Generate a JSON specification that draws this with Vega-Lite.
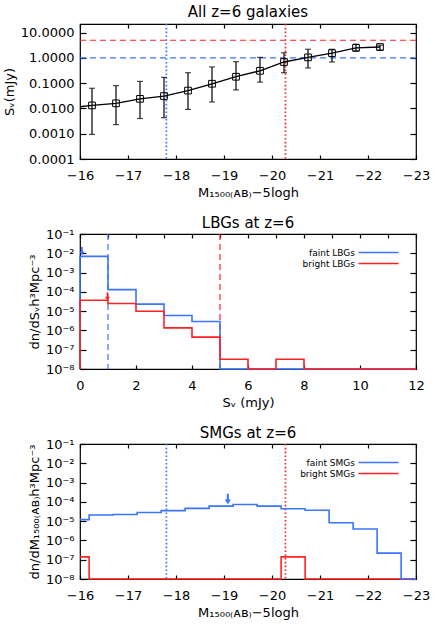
{
  "$schema": "https://vega.github.io/schema/vega-lite/v6.json",
  "background": "white",
  "padding": {"left": 2, "top": 4, "right": 5, "bottom": 2},
  "spacing": 15,
  "config": {
    "font": "DejaVu Sans",
    "view": {"stroke": "black", "strokeWidth": 1.2},
    "scale": {"continuousPadding": 0, "zero": false},
    "axis": {"grid": false, "domain": false, "labelFlush": false, "tickColor": "black", "tickSize": -6, "tickWidth": 1.2, "labelPadding": 12, "labelFontSize": 13, "labelColor": "black", "titleFontSize": 13, "titleFontWeight": "normal", "titleColor": "black", "labelFont": "DejaVu Sans", "titleFont": "DejaVu Sans", "titlePadding": 4},
    "axisX": {"tickSize": -4, "labelPadding": 14},
    "title": {"fontSize": 15, "fontWeight": "normal", "offset": 3, "font": "DejaVu Sans", "frame": "group"},
    "legend": {"orient": "top-right", "offset": 14, "padding": 0, "title": null, "labelFontSize": 9, "labelAlign": "right", "labelOffset": -28, "symbolType": "M-8,0L8,0", "symbolSize": 25, "symbolStrokeWidth": 1.6, "rowPadding": 1, "labelColor": "black"}
  },
  "datasets": {
    "p1": [
      {"M": -15.75, "S": 0.0104, "lo": null, "hi": null},
      {"M": -16.25, "S": 0.0132, "lo": 0.00094, "hi": 0.063},
      {"M": -16.75, "S": 0.016, "lo": 0.0023, "hi": 0.08},
      {"M": -17.25, "S": 0.024, "lo": 0.004, "hi": 0.118},
      {"M": -17.75, "S": 0.031, "lo": 0.0043, "hi": 0.17},
      {"M": -18.25, "S": 0.051, "lo": 0.0092, "hi": 0.26},
      {"M": -18.75, "S": 0.095, "lo": 0.018, "hi": 0.44},
      {"M": -19.25, "S": 0.18, "lo": 0.054, "hi": 0.71},
      {"M": -19.75, "S": 0.31, "lo": 0.11, "hi": 1.05},
      {"M": -20.25, "S": 0.69, "lo": 0.26, "hi": 1.6},
      {"M": -20.75, "S": 1.05, "lo": 0.4, "hi": 2.2},
      {"M": -21.25, "S": 1.55, "lo": 0.69, "hi": 2.2},
      {"M": -21.75, "S": 2.5, "lo": 1.9, "hi": 3.5},
      {"M": -22.25, "S": 2.7, "lo": 2.05, "hi": 3.2}
    ],
    "p2": [
      {"s": "faint LBGs", "i": 0, "x": 0, "y": 1e-8},
      {"s": "faint LBGs", "i": 1, "x": 0, "y": 0.0069},
      {"s": "faint LBGs", "i": 2, "x": 1, "y": 0.00013},
      {"s": "faint LBGs", "i": 3, "x": 2, "y": 2.3e-5},
      {"s": "faint LBGs", "i": 4, "x": 3, "y": 5.9e-6},
      {"s": "faint LBGs", "i": 5, "x": 4, "y": 2.9e-6},
      {"s": "faint LBGs", "i": 6, "x": 5, "y": 1e-8},
      {"s": "faint LBGs", "i": 7, "x": 12, "y": 1e-8},
      {"s": "bright LBGs", "i": 0, "x": 0, "y": 1e-8},
      {"s": "bright LBGs", "i": 1, "x": 0, "y": 3.7e-5},
      {"s": "bright LBGs", "i": 2, "x": 1, "y": 2.5e-5},
      {"s": "bright LBGs", "i": 3, "x": 2, "y": 9.8e-6},
      {"s": "bright LBGs", "i": 4, "x": 3, "y": 1.35e-6},
      {"s": "bright LBGs", "i": 5, "x": 4, "y": 4.5e-7},
      {"s": "bright LBGs", "i": 6, "x": 5, "y": 3.2e-8},
      {"s": "bright LBGs", "i": 7, "x": 6, "y": 1e-8},
      {"s": "bright LBGs", "i": 8, "x": 7, "y": 3.2e-8},
      {"s": "bright LBGs", "i": 9, "x": 8, "y": 1e-8},
      {"s": "bright LBGs", "i": 10, "x": 12, "y": 1e-8}
    ],
    "p3": [
      {"s": "faint SMGs", "i": 0, "x": -16, "y": 1.2e-5},
      {"s": "faint SMGs", "i": 1, "x": -16.19, "y": 2.1e-5},
      {"s": "faint SMGs", "i": 2, "x": -16.69, "y": 2.2e-5},
      {"s": "faint SMGs", "i": 3, "x": -17.19, "y": 2.8e-5},
      {"s": "faint SMGs", "i": 4, "x": -17.69, "y": 3.5e-5},
      {"s": "faint SMGs", "i": 5, "x": -18.19, "y": 4.6e-5},
      {"s": "faint SMGs", "i": 6, "x": -18.69, "y": 6.0e-5},
      {"s": "faint SMGs", "i": 7, "x": -19.19, "y": 7.3e-5},
      {"s": "faint SMGs", "i": 8, "x": -19.69, "y": 6.0e-5},
      {"s": "faint SMGs", "i": 9, "x": -20.19, "y": 4.4e-5},
      {"s": "faint SMGs", "i": 10, "x": -20.69, "y": 3.7e-5},
      {"s": "faint SMGs", "i": 11, "x": -21.19, "y": 8.3e-6},
      {"s": "faint SMGs", "i": 12, "x": -21.69, "y": 3.9e-6},
      {"s": "faint SMGs", "i": 13, "x": -22.19, "y": 2.2e-7},
      {"s": "faint SMGs", "i": 14, "x": -22.69, "y": 1e-8},
      {"s": "faint SMGs", "i": 15, "x": -23, "y": 1e-8},
      {"s": "bright SMGs", "i": 0, "x": -16, "y": 1.4e-7},
      {"s": "bright SMGs", "i": 1, "x": -16.19, "y": 1e-8},
      {"s": "bright SMGs", "i": 2, "x": -20.19, "y": 1.4e-7},
      {"s": "bright SMGs", "i": 3, "x": -20.69, "y": 1e-8},
      {"s": "bright SMGs", "i": 4, "x": -23, "y": 1e-8}
    ]
  },
  "vconcat": [
    {
      "width": 336, "height": 135,
      "title": "All z=6 galaxies",
      "resolve": {"axis": {"x": "independent", "y": "independent"}},
      "layer": [
        {
          "layer": [
            {
              "data": {"values": [{"v": 1}]},
              "mark": {"type": "rule", "color": "#3a74ff", "strokeDash": [6, 4], "strokeWidth": 1.2},
              "encoding": {"y": {"field": "v", "type": "quantitative", "scale": {"type": "log", "domain": [0.0001, 22], "nice": false}}}
            },
            {
              "data": {"values": [{"v": 5}]},
              "mark": {"type": "rule", "color": "#ff2222", "strokeDash": [6, 4], "strokeWidth": 1.2},
              "encoding": {"y": {"field": "v", "type": "quantitative"}}
            },
            {
              "data": {"values": [{"v": -17.8}]},
              "mark": {"type": "rule", "color": "#3a74ff", "strokeDash": [1.6, 2.2], "strokeWidth": 1.7},
              "encoding": {"x": {"field": "v", "type": "quantitative", "scale": {"domain": [-23, -16], "reverse": true, "nice": false, "padding": 0}}}
            },
            {
              "data": {"values": [{"v": -20.28}]},
              "mark": {"type": "rule", "color": "#ff2222", "strokeDash": [1.6, 2.2], "strokeWidth": 1.7},
              "encoding": {"x": {"field": "v", "type": "quantitative"}}
            },
            {
              "data": {"name": "p1"},
              "mark": {"type": "line", "color": "black", "strokeWidth": 1.3, "clip": true},
              "encoding": {
                "x": {"field": "M", "type": "quantitative", "axis": {"values": [-16, -17, -18, -19, -20, -21, -22, -23], "format": "d", "title": "M₁₅₀₀₍ᴀʙ₎−5logh"}},
                "y": {"field": "S", "type": "quantitative", "axis": {"values": [0.0001, 0.001, 0.01, 0.1, 1, 10], "format": ".4f", "title": "Sᵥ(mJy)"}}
              }
            },
            {
              "data": {"name": "p1"},
              "transform": [{"filter": "datum.M < -16"}],
              "mark": {"type": "rule", "color": "black", "strokeWidth": 1.2},
              "encoding": {
                "x": {"field": "M", "type": "quantitative"},
                "y": {"field": "lo", "type": "quantitative"},
                "y2": {"field": "hi"}
              }
            },
            {
              "data": {"name": "p1"},
              "transform": [{"filter": "datum.M < -16"}],
              "mark": {"type": "tick", "orient": "horizontal", "color": "black", "size": 6, "thickness": 1.2},
              "encoding": {
                "x": {"field": "M", "type": "quantitative"},
                "y": {"field": "lo", "type": "quantitative"}
              }
            },
            {
              "data": {"name": "p1"},
              "transform": [{"filter": "datum.M < -16"}],
              "mark": {"type": "tick", "orient": "horizontal", "color": "black", "size": 6, "thickness": 1.2},
              "encoding": {
                "x": {"field": "M", "type": "quantitative"},
                "y": {"field": "hi", "type": "quantitative"}
              }
            },
            {
              "data": {"name": "p1"},
              "transform": [{"filter": "datum.M < -16"}],
              "mark": {"type": "point", "shape": "square", "filled": false, "size": 45, "color": "black", "strokeWidth": 1, "opacity": 1},
              "encoding": {
                "x": {"field": "M", "type": "quantitative"},
                "y": {"field": "S", "type": "quantitative"}
              }
            }
          ]
        },
        {
          "data": {"values": [{"x": -20, "y": 1}]},
          "mark": {"type": "point", "opacity": 0},
          "encoding": {
            "x": {"field": "x", "type": "quantitative", "axis": {"orient": "top", "labels": false, "title": null, "values": [-16, -17, -18, -19, -20, -21, -22, -23]}},
            "y": {"field": "y", "type": "quantitative", "axis": {"orient": "right", "labels": false, "title": null, "values": [0.0001, 0.001, 0.01, 0.1, 1, 10]}}
          }
        }
      ]
    },
    {
      "width": 336, "height": 135,
      "title": {"text": "LBGs at z=6", "offset": -3},
      "resolve": {"axis": {"x": "independent", "y": "independent"}},
      "layer": [
        {
          "layer": [
            {
              "data": {"values": [{"v": 1}]},
              "mark": {"type": "rule", "color": "#3a74ff", "strokeDash": [6, 4], "strokeWidth": 1.2},
              "encoding": {"x": {"field": "v", "type": "quantitative", "scale": {"domain": [0, 12], "nice": false, "padding": 0}}}
            },
            {
              "data": {"values": [{"v": 5}]},
              "mark": {"type": "rule", "color": "#ff2222", "strokeDash": [6, 4], "strokeWidth": 1.2},
              "encoding": {"x": {"field": "v", "type": "quantitative"}}
            },
            {
              "data": {"name": "p2"},
              "transform": [{"filter": "datum.s == 'faint LBGs'"}],
              "mark": {"type": "line", "interpolate": "step-after", "strokeWidth": 1.6},
              "encoding": {
                "x": {"field": "x", "type": "quantitative", "axis": {"values": [0, 2, 4, 6, 8, 10, 12], "title": "Sᵥ (mJy)"}},
                "y": {"field": "y", "type": "quantitative", "scale": {"type": "log", "domain": [1e-8, 0.1], "nice": false, "padding": 0}, "axis": {"values": [1e-8, 1e-7, 1e-6, 1e-5, 1e-4, 1e-3, 1e-2, 1e-1], "labelExpr": "'10⁻' + ['⁰','¹','²','³','⁴','⁵','⁶','⁷','⁸','⁹'][round(-log(datum.value)/LN10)]", "title": "dn/dSᵥh³Mpc⁻³"}},
                "color": {"field": "s", "type": "nominal", "scale": {"domain": ["faint LBGs", "bright LBGs"], "range": ["#3a74ff", "#ff2222"]}},
                "order": {"field": "i", "type": "quantitative"}
              }
            },
            {
              "data": {"name": "p2"},
              "transform": [{"filter": "datum.s == 'bright LBGs'"}],
              "mark": {"type": "line", "interpolate": "step-after", "strokeWidth": 1.6},
              "encoding": {
                "x": {"field": "x", "type": "quantitative"},
                "y": {"field": "y", "type": "quantitative"},
                "color": {"field": "s", "type": "nominal"},
                "order": {"field": "i", "type": "quantitative"}
              }
            },
            {
              "data": {"values": [{"x": 0.07, "y": 0.013}]},
              "mark": {"type": "point", "shape": "M-0.2,-1L0.2,-1L0.2,0.1L0.6,0.1L0,1L-0.6,0.1L-0.2,0.1Z", "filled": true, "size": 70, "opacity": 1, "color": "#3a74ff"},
              "encoding": {
                "x": {"field": "x", "type": "quantitative"},
                "y": {"field": "y", "type": "quantitative"}
              }
            },
            {
              "data": {"values": [{"x": 0.98, "y": 5.8e-5}]},
              "mark": {"type": "point", "shape": "M-0.2,-1L0.2,-1L0.2,0.1L0.6,0.1L0,1L-0.6,0.1L-0.2,0.1Z", "filled": true, "size": 70, "opacity": 1, "color": "#ff2222"},
              "encoding": {
                "x": {"field": "x", "type": "quantitative"},
                "y": {"field": "y", "type": "quantitative"}
              }
            }
          ]
        },
        {
          "data": {"values": [{"x": 6, "y": 0.0001}]},
          "mark": {"type": "point", "opacity": 0},
          "encoding": {
            "x": {"field": "x", "type": "quantitative", "axis": {"orient": "top", "labels": false, "title": null, "values": [0, 1, 2, 3, 4, 5, 6, 7, 8, 9, 10, 11, 12]}},
            "y": {"field": "y", "type": "quantitative", "axis": {"orient": "right", "labels": false, "title": null, "values": [1e-8, 1e-7, 1e-6, 1e-5, 1e-4, 1e-3, 1e-2, 1e-1]}}
          }
        }
      ]
    },
    {
      "width": 336, "height": 135,
      "title": {"text": "SMGs at z=6", "offset": -3},
      "resolve": {"axis": {"x": "independent", "y": "independent"}},
      "layer": [
        {
          "layer": [
            {
              "data": {"values": [{"v": -17.8}]},
              "mark": {"type": "rule", "color": "#3a74ff", "strokeDash": [1.6, 2.2], "strokeWidth": 1.7},
              "encoding": {"x": {"field": "v", "type": "quantitative", "scale": {"domain": [-23, -16], "reverse": true, "nice": false, "padding": 0}}}
            },
            {
              "data": {"values": [{"v": -20.28}]},
              "mark": {"type": "rule", "color": "#ff2222", "strokeDash": [1.6, 2.2], "strokeWidth": 1.7},
              "encoding": {"x": {"field": "v", "type": "quantitative"}}
            },
            {
              "data": {"name": "p3"},
              "transform": [{"filter": "datum.s == 'bright SMGs'"}],
              "mark": {"type": "line", "interpolate": "step-after", "strokeWidth": 1.6},
              "encoding": {
                "x": {"field": "x", "type": "quantitative", "axis": {"values": [-16, -17, -18, -19, -20, -21, -22, -23], "format": "d", "title": "M₁₅₀₀₍ᴀʙ₎−5logh"}},
                "y": {"field": "y", "type": "quantitative", "scale": {"type": "log", "domain": [1e-8, 0.1], "nice": false, "padding": 0}, "axis": {"values": [1e-8, 1e-7, 1e-6, 1e-5, 1e-4, 1e-3, 1e-2, 1e-1], "labelExpr": "'10⁻' + ['⁰','¹','²','³','⁴','⁵','⁶','⁷','⁸','⁹'][round(-log(datum.value)/LN10)]", "title": "dn/dM₁₅₀₀₍ᴀʙ₎h³Mpc⁻³"}},
                "color": {"field": "s", "type": "nominal", "scale": {"domain": ["faint SMGs", "bright SMGs"], "range": ["#3a74ff", "#ff2222"]}},
                "order": {"field": "i", "type": "quantitative"}
              }
            },
            {
              "data": {"name": "p3"},
              "transform": [{"filter": "datum.s == 'faint SMGs'"}],
              "mark": {"type": "line", "interpolate": "step-after", "strokeWidth": 1.6},
              "encoding": {
                "x": {"field": "x", "type": "quantitative"},
                "y": {"field": "y", "type": "quantitative"},
                "color": {"field": "s", "type": "nominal"},
                "order": {"field": "i", "type": "quantitative"}
              }
            },
            {
              "data": {"values": [{"x": -19.08, "y": 0.00014}]},
              "mark": {"type": "point", "shape": "M-0.2,-1L0.2,-1L0.2,0.1L0.6,0.1L0,1L-0.6,0.1L-0.2,0.1Z", "filled": true, "size": 110, "opacity": 1, "color": "#3a74ff"},
              "encoding": {
                "x": {"field": "x", "type": "quantitative"},
                "y": {"field": "y", "type": "quantitative"}
              }
            }
          ]
        },
        {
          "data": {"values": [{"x": -20, "y": 0.0001}]},
          "mark": {"type": "point", "opacity": 0},
          "encoding": {
            "x": {"field": "x", "type": "quantitative", "axis": {"orient": "top", "labels": false, "title": null, "values": [-16, -17, -18, -19, -20, -21, -22, -23]}},
            "y": {"field": "y", "type": "quantitative", "axis": {"orient": "right", "labels": false, "title": null, "values": [1e-8, 1e-7, 1e-6, 1e-5, 1e-4, 1e-3, 1e-2, 1e-1]}}
          }
        }
      ]
    }
  ],
  "resolve": {"scale": {"color": "independent", "x": "independent", "y": "independent"}}
}
